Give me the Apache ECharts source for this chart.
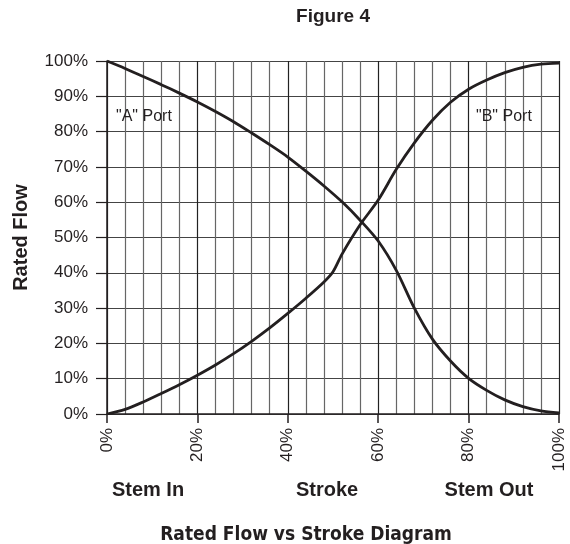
<!DOCTYPE html>
<html>
<head>
<meta charset="utf-8">
<script src="https://cdn.jsdelivr.net/npm/echarts@6/dist/echarts.min.js"></script>
<style>
  html, body { margin: 0; padding: 0; background: #fff; }
  #chart { width: 570px; height: 544px; }
</style>
</head>
<body>
<div id="chart"></div>
<script>
// stroke positions (%) and rated flow (%)
var strokeA = [0, 4, 8, 12, 16, 20, 24, 28, 32, 36, 40, 44, 48, 52, 56, 60, 64, 68, 72, 76, 80, 84, 88, 92, 96, 100];
var flowA   = [100, 97.9, 95.6, 93.3, 90.9, 88.4, 85.7, 82.8, 79.6, 76.3, 72.8, 68.8, 64.6, 60.1, 54.9, 49.0, 40.7, 30.0, 21.2, 15.0, 10.1, 6.7, 4.0, 2.1, 0.9, 0.3];
var strokeB = [0, 4, 8, 12, 16, 20, 24, 28, 32, 36, 40, 44, 48, 50, 52, 56, 60, 64, 68, 72, 76, 80, 84, 88, 92, 96, 100];
var flowB   = [0, 1.3, 3.4, 5.8, 8.3, 11.0, 13.9, 17.1, 20.6, 24.4, 28.5, 32.8, 37.4, 40.3, 45.3, 53.6, 60.6, 69.3, 76.8, 83.2, 88.3, 92.0, 94.6, 96.7, 98.2, 99.1, 99.4];

var font = '"Liberation Sans", Arial, Helvetica, sans-serif';
var ink = '#231f20';

function pairs(xs, ys) {
  return xs.map(function (x, i) { return [x, ys[i]]; });
}

function label(text, x, y, css, align) {
  return {
    type: 'text', x: x, y: y, z: 10,
    style: { text: text, font: css, fill: ink, align: align || 'center', verticalAlign: 'middle' }
  };
}

var chart = echarts.init(document.getElementById('chart'));
var option = {
  animation: false,
  backgroundColor: '#fff',
  grid: { left: 107, right: 11, top: 61, bottom: 130 },
  xAxis: {
    type: 'value', min: 0, max: 100, interval: 20,
    axisLine: { lineStyle: { color: ink, width: 1.5 } },
    axisTick: { show: true, length: 9, lineStyle: { color: ink, width: 1.5 } },
    axisLabel: { rotate: 90, margin: 14, formatter: '{value}%', fontFamily: font, fontSize: 17, color: ink },
    splitLine: { show: true, lineStyle: { color: '#222', width: 1.2 } },
    minorTick: { show: false, splitNumber: 5 },
    minorSplitLine: { show: true, lineStyle: { color: '#666', width: 1.2 } }
  },
  yAxis: {
    type: 'value', min: 0, max: 100, interval: 10,
    name: 'Rated Flow', nameLocation: 'middle', nameGap: 76, nameRotate: 90,
    nameTextStyle: { fontFamily: font, fontWeight: 'bold', fontSize: 20, color: ink },
    axisLine: { show: true, lineStyle: { color: ink, width: 1.5 } },
    axisTick: { show: true, length: 11, lineStyle: { color: ink, width: 1.2 } },
    axisLabel: { margin: 19, formatter: '{value}%', fontFamily: font, fontSize: 17, color: ink },
    splitLine: { show: true, lineStyle: { color: '#444', width: 1.2 } }
  },
  series: [
    {
      name: '"A" Port', type: 'line', data: pairs(strokeA, flowA),
      showSymbol: false, smooth: 0.3,
      lineStyle: { color: ink, width: 2.8 }
    },
    {
      name: '"B" Port', type: 'line', data: pairs(strokeB, flowB),
      showSymbol: false, smooth: 0.3,
      lineStyle: { color: ink, width: 2.8 }
    }
  ],
  graphic: [
    label('Figure 4', 333, 17, 'bold 19px ' + font),
    label('"A" Port', 116, 117, '16px ' + font, 'left'),
    label('"B" Port', 476, 117, '16px ' + font, 'left'),
    label('Stem In', 148, 490, 'bold 20px ' + font),
    label('Stroke', 327, 490, 'bold 20px ' + font),
    label('Stem Out', 489, 490, 'bold 20px ' + font),
    label('Rated Flow vs Stroke Diagram', 306, 535, 'bold 19px "Liberation Sans Narrow", "DejaVu Sans Condensed", sans-serif')
  ]
};
chart.setOption(option);
</script>
</body>
</html>
